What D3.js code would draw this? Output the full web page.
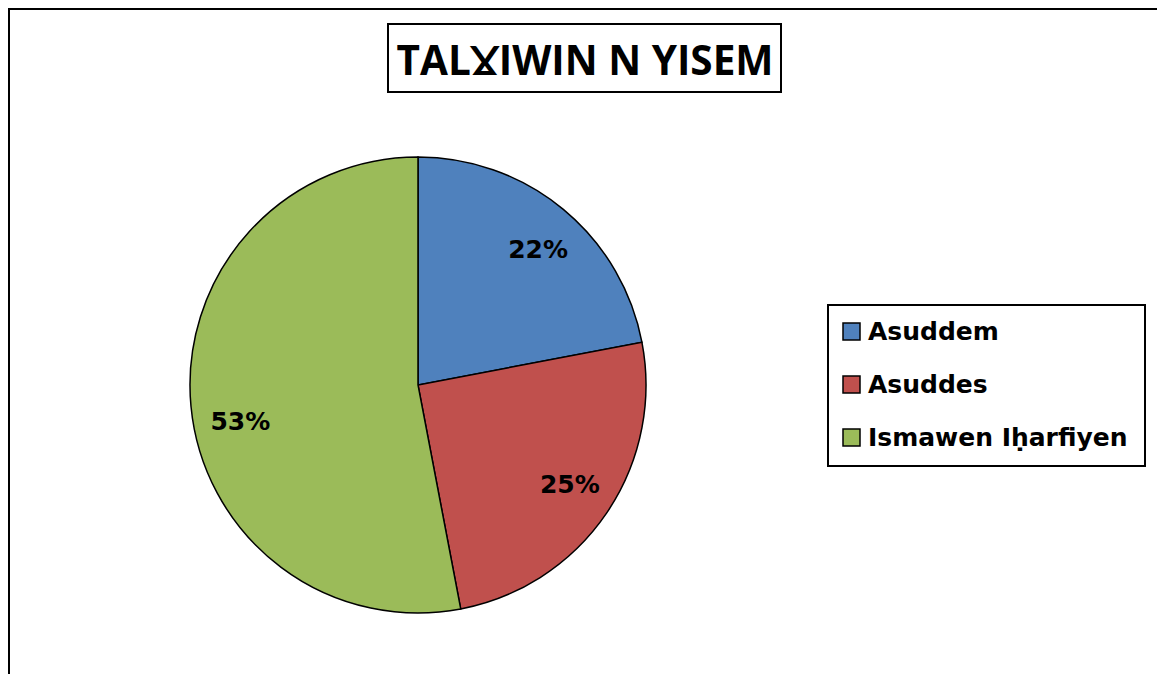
<!DOCTYPE html>
<html><head><meta charset="utf-8">
<script src="https://cdn.jsdelivr.net/npm/d3@7"></script>
<style>body{margin:0;background:#fff}svg{display:block}</style>
</head><body>
<svg id="c" width="1157" height="674"></svg>
<script>
const categories = ["Asuddem", "Asuddes", "Ismawen Iḥarfiyen"];
const values = [22, 25, 53];
const colors = ["#4F81BD", "#C0504D", "#9BBB59"];
const title = "TALƔIWIN N YISEM";

const svg = d3.select("#c");
// outer chart border
svg.append("path").attr("d","M9,674 V9 H1157").attr("fill","none").attr("stroke","#000").attr("stroke-width",2);

// title
const tg = svg.append("g");
tg.append("rect").attr("x",388).attr("y",24).attr("width",393).attr("height",68)
  .attr("fill","#fff").attr("stroke","#000").attr("stroke-width",2);
tg.append("text").attr("x",585).attr("y",75).attr("text-anchor","middle")
  .attr("font-family","Open Sans, Lato, sans-serif").attr("font-weight","bold").attr("font-size",40.5)
  .text(title);

// pie
const cx = 418, cy = 385, r = 228;
const pie = d3.pie().sort(null).value(d=>d)(values);
const arc = d3.arc().innerRadius(0).outerRadius(r);
const g = svg.append("g").attr("transform",`translate(${cx},${cy})`);
g.selectAll("path").data(pie).join("path").attr("d",arc)
  .attr("fill",(d,i)=>colors[i]).attr("stroke","#000").attr("stroke-width",1.5);

// label placement (Excel "best fit" style tweak, in degrees)
const labelShift = [1.9, -1.1, -6.1];
const labelR = r * 0.795;
g.selectAll("text").data(pie).join("text")
  .attr("transform",(d,i)=>{
    const a = (d.startAngle + d.endAngle)/2 + labelShift[i]*Math.PI/180;
    return `translate(${labelR*Math.sin(a)},${-labelR*Math.cos(a)})`;
  })
  .attr("text-anchor","middle").attr("dy","0.36em")
  .attr("font-family","DejaVu Sans, sans-serif").attr("font-weight","bold").attr("font-size",25)
  .text(d=>d.data+"%");

// legend
const lg = svg.append("g");
lg.append("rect").attr("x",828).attr("y",305).attr("width",317).attr("height",161)
  .attr("fill","#fff").attr("stroke","#000").attr("stroke-width",2);
const items = lg.selectAll("g.item").data(categories).join("g").attr("class","item")
  .attr("transform",(d,i)=>`translate(843,${340+i*53})`);
items.append("rect").attr("x",0).attr("y",-17).attr("width",17).attr("height",17)
  .attr("fill",(d,i)=>colors[i]).attr("stroke","#000").attr("stroke-width",1.5);
items.append("text").attr("x",25).attr("y",0)
  .attr("font-family","DejaVu Sans, sans-serif").attr("font-weight","bold").attr("font-size",25)
  .text(d=>d);
</script>
</body></html>
